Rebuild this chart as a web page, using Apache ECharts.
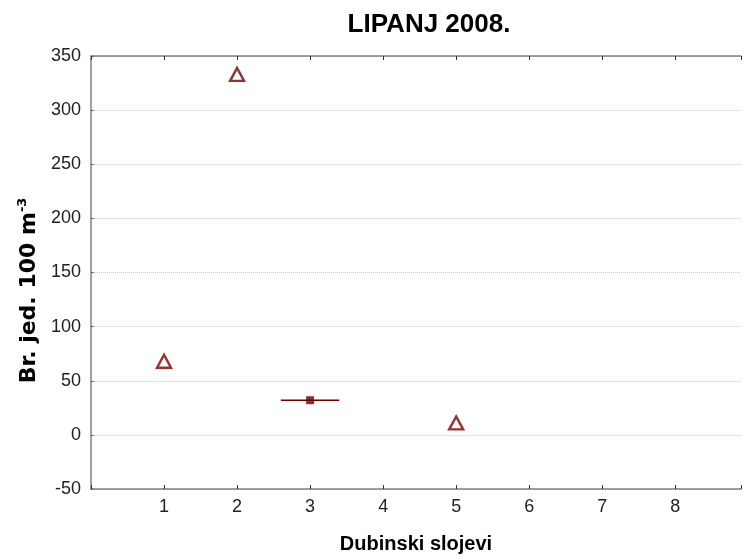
<!DOCTYPE html>
<html>
<head>
<meta charset="utf-8">
<script src="https://cdn.jsdelivr.net/npm/echarts@6/dist/echarts.min.js"></script>
<style>
html,body{margin:0;padding:0;background:#fff;}
#c{width:744px;height:559px;}
</style>
</head>
<body>
<div id="c"></div>
<script>
const xTicks = [1, 2, 3, 4, 5, 6, 7, 8];
const yTicks = [-50, 0, 50, 100, 150, 200, 250, 300, 350];
const triangleX = [1, 2, 5];
const triangleY = [68, 333, 11];
const squareX = [3];
const squareY = [32];
const squareRange = [2.6, 3.4];

const chart = echarts.init(document.getElementById('c'));
const font = 'Liberation Sans, Arial, sans-serif';
chart.setOption({
  animation: false,
  backgroundColor: '#fff',
  title: {
    text: 'LIPANJ 2008.',
    left: 424, top: 7, textAlign: 'center',
    textStyle: { fontFamily: font, fontSize: 26, fontWeight: 'bold', color: '#000' }
  },
  grid: { left: 91, right: 0, top: 56, bottom: 67 },
  xAxis: [{
    type: 'value', min: 0, max: 8.9, interval: 1,
    name: 'Dubinski slojevi', nameLocation: 'middle', nameGap: 45,
    nameTextStyle: { fontFamily: font, fontSize: 20, fontWeight: 'bold', color: '#000' },
    axisLine: { onZero: false, lineStyle: { color: '#808080', width: 1.5 } },
    axisTick: { inside: true, length: 4, lineStyle: { color: '#333' } },
    axisLabel: {
      fontFamily: font, fontSize: 18, color: '#222', margin: 9,
      formatter: v => xTicks.includes(v) ? String(v) : ''
    },
    splitLine: { show: false }
  }, {
    type: 'value', position: 'top', min: 0, max: 8.9, interval: 1,
    axisLine: { show: true, onZero: false, lineStyle: { color: '#808080', width: 1.5 } },
    axisTick: { inside: true, length: 4, lineStyle: { color: '#333' } },
    axisLabel: { show: false },
    splitLine: { show: false }
  }],
  yAxis: {
    type: 'value', min: yTicks[0], max: yTicks[yTicks.length - 1], interval: 50,
    name: '{b|Br. jed. 100 m}{s|-3}', nameLocation: 'middle', nameGap: 48,
    nameTextStyle: {
      padding: [0, 36, 0, 0],
      rich: {
        b: { fontFamily: 'DejaVu Sans', fontSize: 22, fontWeight: 'bold', color: '#000' },
        s: { fontFamily: 'DejaVu Sans', fontSize: 13, fontWeight: 'bold', color: '#000', verticalAlign: 'top', padding: [0, 0, 12, 0] }
      }
    },
    axisLine: { show: true, onZero: false, lineStyle: { color: '#808080', width: 1.5 } },
    axisTick: { show: true, inside: true, length: 3, lineStyle: { color: '#666' } },
    axisLabel: { fontFamily: font, fontSize: 18, color: '#222', margin: 10 },
    splitLine: { show: true, lineStyle: { color: '#c8c8c8', type: 'dotted', width: 1 } }
  },
  series: [{
    type: 'line',
    data: squareRange.map(x => [x, squareY[0]]),
    symbol: 'none',
    lineStyle: { color: '#6e0000', width: 1.5 },
    silent: true
  }, {
    type: 'scatter',
    data: squareX.map((x, i) => [x, squareY[i]]),
    symbol: 'rect', symbolSize: 8,
    itemStyle: { color: '#6e0000' },
    silent: true
  }, {
    type: 'scatter',
    data: triangleX.map((x, i) => [x, triangleY[i]]),
    symbol: 'triangle', symbolSize: [14, 13],
    itemStyle: { color: '#fff', borderColor: '#7a0000', borderWidth: 2.4 },
    silent: true
  }]
});
</script>
</body>
</html>
